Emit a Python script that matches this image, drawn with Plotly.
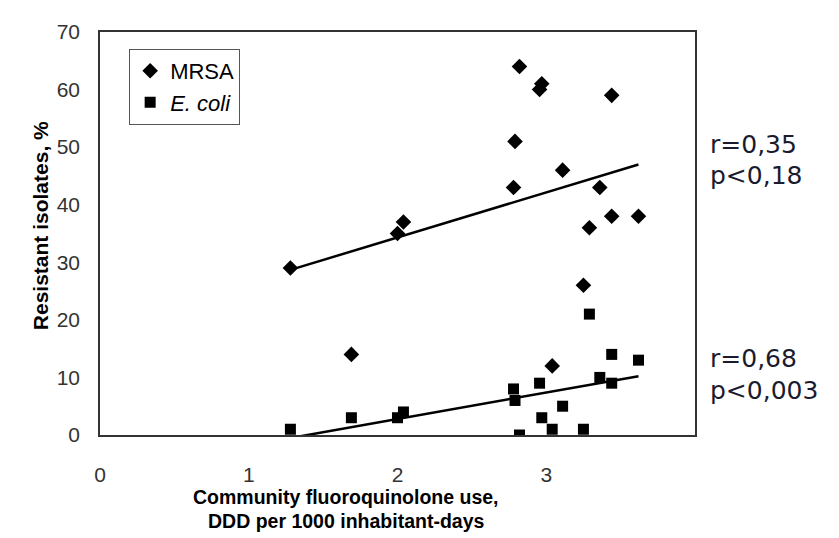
import numpy as np
import plotly.graph_objects as go

# Data
use_ddd = [1.28, 1.69, 2.00, 2.04, 2.82, 2.97, 2.955, 3.44, 2.79, 3.11, 2.78, 3.36, 3.44, 3.62, 3.29, 3.25, 3.04]
mrsa = [29, 14, 35, 37, 64, 61, 60, 59, 51, 46, 43, 43, 38, 38, 36, 26, 12]
ecoli = [1, 3, 3, 4, 0, 3, 9, 14, 6, 5, 8, 10, 9, 13, 21, 1, 1]

x_ticks = [0, 1, 2, 3]
y_ticks = [0, 10, 20, 30, 40, 50, 60, 70]
stats_mrsa = ["r=0,35", "p<0,18"]
stats_ecoli = ["r=0,68", "p<0,003"]

FONT = "Liberation Sans, Arial, sans-serif"

fig = go.Figure()

fig.add_trace(go.Scatter(x=use_ddd, y=mrsa, mode="markers", name="MRSA",
                         marker=dict(symbol="diamond", size=12, color="black")))
fig.add_trace(go.Scatter(x=use_ddd, y=ecoli, mode="markers", name="<i>E. coli</i>",
                         marker=dict(symbol="square", size=11, color="black")))

xs = np.array(use_ddd)
xline = np.array([xs.min(), xs.max()])
for ys in (mrsa, ecoli):
    k, b = np.polyfit(xs, np.array(ys, dtype=float), 1)
    fig.add_trace(go.Scatter(x=xline, y=k * xline + b, mode="lines",
                             line=dict(color="black", width=2.5),
                             showlegend=False, hoverinfo="skip"))

# page body has an 8px margin, so the figure is 8px smaller and offset
fig.update_layout(
    width=831, height=530,
    margin=dict(l=92, r=144, t=15, b=103),
    paper_bgcolor="white", plot_bgcolor="white",
    font=dict(family=FONT, size=18, color="#222"),
    showlegend=True,
    legend=dict(x=0.049, y=0.958, xanchor="left", yanchor="top",
                bordercolor="#555", borderwidth=1, bgcolor="white",
                font=dict(family=FONT, size=22, color="black"),
                itemwidth=30),
    xaxis=dict(range=[0, 4], tickvals=x_ticks, ticktext=[str(v) for v in x_ticks],
               showgrid=False, zeroline=False, showline=True, mirror=True,
               linecolor="#333", linewidth=1.5,
               ticks="outside", ticklen=20, tickcolor="rgba(0,0,0,0)",
               tickfont=dict(family=FONT, size=21, color="#333")),
    yaxis=dict(range=[0, 70], tickvals=y_ticks,
               showgrid=False, zeroline=False, showline=True, mirror=True,
               linecolor="#333", linewidth=1.5,
               ticks="outside", ticklen=14, tickcolor="rgba(0,0,0,0)",
               tickfont=dict(family=FONT, size=21, color="#333")),
)

# Axis titles
fig.add_annotation(xref="paper", yref="paper", x=(346 - 100) / 595, y=(435 - 498) / 412,
                   text="<b>Community fluoroquinolone use,</b>", showarrow=False,
                   font=dict(family=FONT, size=19.5, color="black"), yanchor="middle")
fig.add_annotation(xref="paper", yref="paper", x=(346 - 100) / 595, y=(435 - 523) / 412,
                   text="<b>DDD per 1000 inhabitant-days</b>", showarrow=False,
                   font=dict(family=FONT, size=19.5, color="black"), yanchor="middle")
fig.add_annotation(xref="paper", yref="paper", x=(27 - 100) / 595, y=(435 - 221) / 412,
                   text="<b>Resistant isolates, %</b>", showarrow=False, textangle=-90,
                   font=dict(family=FONT, size=21, color="black"))

# Correlation statistics
STAT_FONT = dict(family="DejaVu Sans, sans-serif", size=25, color="#1b1b2f")
for lines, yc in ((stats_mrsa, 138), (stats_ecoli, 357)):
    for i, t in enumerate(lines):
        fig.add_annotation(xref="paper", yref="paper", x=(708 - 100) / 595,
                           y=(435 - (yc + 32 * i)) / 412, text=t, showarrow=False,
                           xanchor="left", yanchor="middle", font=STAT_FONT)

fig.write_html("out.html")
